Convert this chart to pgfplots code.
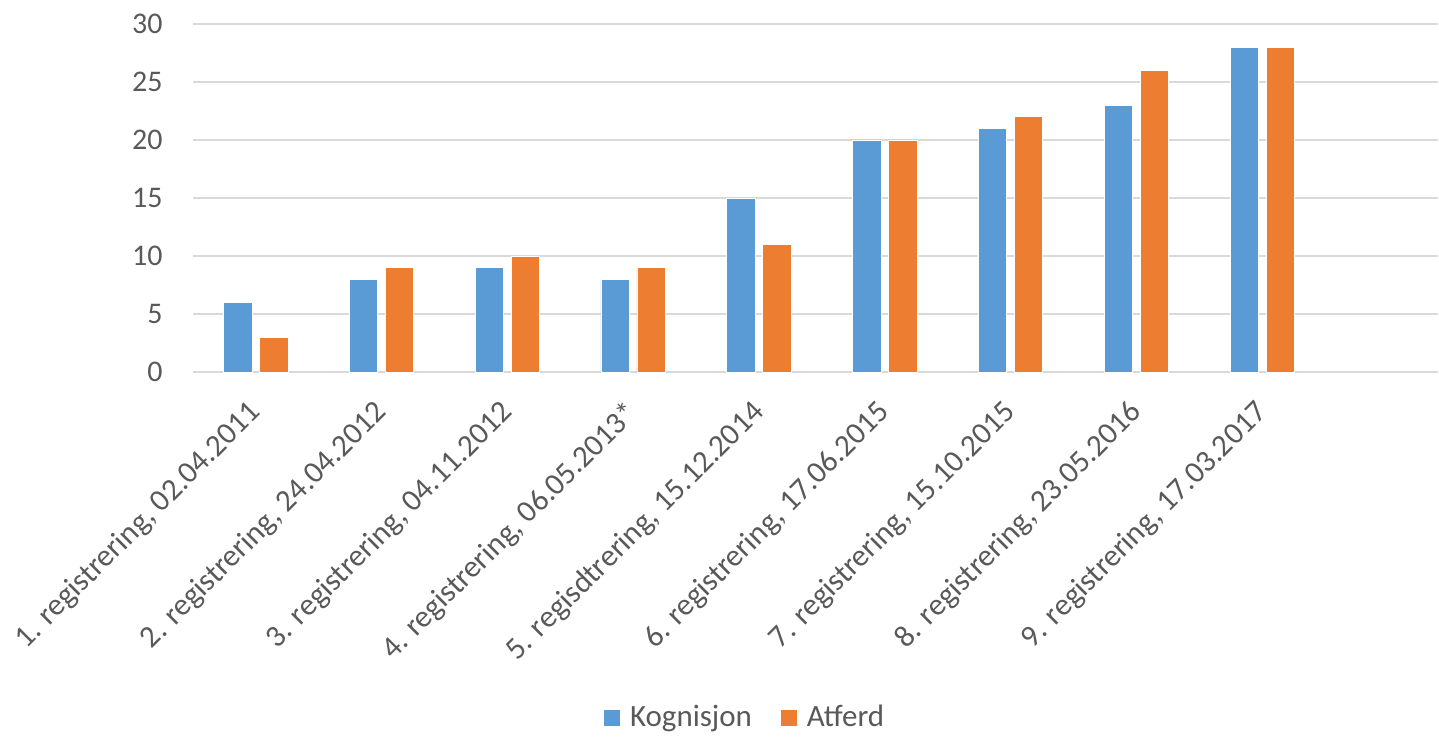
\documentclass[border=0pt]{standalone}
\usepackage{pgfplots}
\pgfplotsset{compat=1.18}
\usepackage{fontspec}
\setmainfont{Carlito}
\definecolor{cblue}{HTML}{5B9BD5}
\definecolor{corange}{HTML}{ED7D31}
\definecolor{cgrid}{HTML}{D9D9D9}
\definecolor{ctext}{HTML}{595959}
\begin{document}
\begin{tikzpicture}
\begin{axis}[
  name=ax, at={(0bp,0bp)}, anchor=south west,
  scale only axis, width=623bp, height=174.15bp,
  xmin=-0.5, xmax=9.397, ymin=0, ymax=30,
  xtick={0,...,8},
  xticklabels={{1. registrering, 02.04.2011},{2. registrering, 24.04.2012},{3. registrering, 04.11.2012},{4. registrering, 06.05.2013*},{5. regisdtrering, 15.12.2014},{6. registrering, 17.06.2015},{7. registrering, 15.10.2015},{8. registrering, 23.05.2016},{9. registrering, 17.03.2017}},
  ytick={0,5,...,30},
  major tick length=0pt,
  axis line style={draw=none},
  ymajorgrids, grid style={cgrid, line width=1bp},
  /pgf/number format/assume math mode=true,
  tick label style={text=ctext},
  yticklabel style={font=\fontsize{15bp}{18bp}\selectfont, inner sep=0pt, xshift=-15bp},
  xticklabel style={font=\fontsize{15.5bp}{18bp}\selectfont, xshift=-4.5bp, yshift=-13bp, rotate=45, anchor=north east, inner sep=0pt},
  bar width=0.226,
  legend style={at={(0.444,-0.9925)}, anchor=center, legend columns=2, draw=none, fill=none,
    font=\fontsize{15.5bp}{18bp}\selectfont, text=ctext,
    /tikz/every odd column/.append style={column sep=2.5bp},
    /tikz/every even column/.append style={column sep=12bp}},
  legend image code/.code={\fill[#1] (0bp,-4.25bp) rectangle (8.5bp,4.25bp);},
]
\addplot[ybar, bar shift=-0.143, fill=cblue, draw=white, line width=0.4bp] coordinates {(0,6) (1,8) (2,9) (3,8) (4,15) (5,20) (6,21) (7,23) (8,28)};
\addlegendentry{Kognisjon}
\addplot[ybar, bar shift=0.143, fill=corange, draw=white, line width=0.4bp] coordinates {(0,3) (1,9) (2,10) (3,9) (4,11) (5,20) (6,22) (7,26) (8,28)};
\addlegendentry{Atferd}
\end{axis}
\useasboundingbox (-96.5bp,-180.85bp) rectangle (623bp,186.15bp);
\end{tikzpicture}
\end{document}
